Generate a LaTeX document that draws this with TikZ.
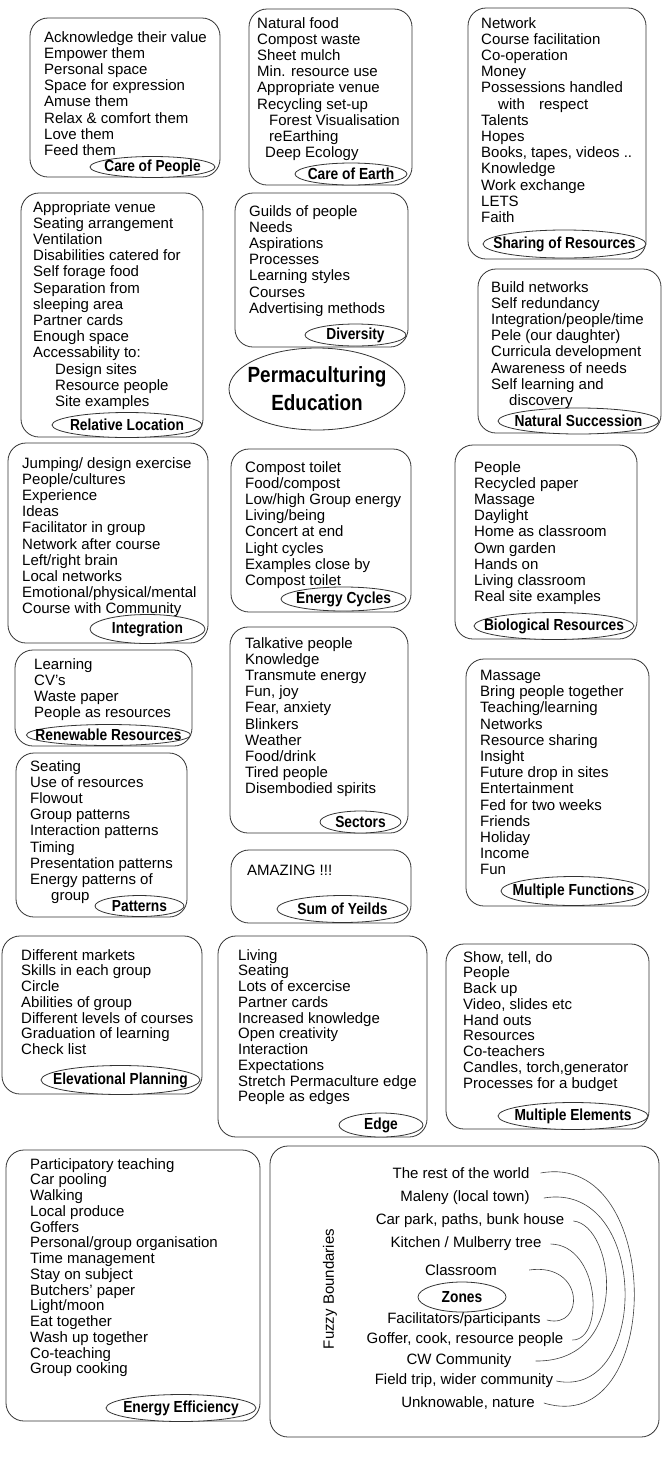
\documentclass[tikz,border=0pt]{standalone}
\usepackage{fontspec}
\setmainfont{Liberation Sans}
\newfontfamily\lblfont{Liberation Sans}[FakeStretch=0.86]
\usetikzlibrary{shapes.geometric}
\tikzset{
  box/.style={draw=black!80, line width=0.8pt, rounded corners=18pt},
  txt/.style={anchor=north west, inner sep=0pt, align=left, font=\fontsize{15}{16.2}\selectfont},
  txtb/.style={anchor=north west, inner sep=0pt, align=left, font=\fontsize{15}{15.75}\selectfont},
  lbl/.style={ellipse, draw=black!80, line width=0.8pt, fill=white, inner xsep=-15pt, inner ysep=-3pt,
              font=\lblfont\bfseries\fontsize{16}{18}\selectfont},
  zl/.style={inner sep=3pt, font=\fontsize{15}{16}\selectfont},
  zarc/.style={draw=black!75, line width=0.6pt},
}
\begin{document}
\begin{tikzpicture}[x=1pt,y=-1pt]
\fill[white] (0,0) rectangle (672,1460);
\useasboundingbox (0,0) rectangle (672,1460);

% ---------- boxes ----------
\draw[box] (30,18) rectangle (220,177);
\draw[box] (249,9) rectangle (412,185);
\draw[box] (468,8) rectangle (646,259);
\draw[box] (21,193) rectangle (203,437);
\draw[box] (235,193) rectangle (408,347);
\draw[box] (478,269) rectangle (661,433);
\draw[box] (8,443) rectangle (208,643);
\draw[box] (231,449) rectangle (411,612);
\draw[box] (455,445) rectangle (637,639);
\draw[box] (15,650) rectangle (192,746);
\draw[box] (16,753) rectangle (187,917);
\draw[box] (230,627) rectangle (408,833);
\draw[box] (231,850) rectangle (411,923);
\draw[box] (466,659) rectangle (649,906);
\draw[box] (2,936) rectangle (202,1094);
\draw[box] (218,936) rectangle (427,1137);
\draw[box] (446,944) rectangle (649,1129);
\draw[box] (6,1150) rectangle (260,1421);
\draw[box] (270,1146) rectangle (659,1437);

% ---------- texts ----------
\node[txt] (tA) at (44,31) {Acknowledge their value\\Empower them\\Personal space\\Space for expression\\Amuse them\\Relax \& comfort them\\Love them\\Feed them};
\node[txt] (tB) at (257,17) {Natural food\\Compost waste\\Sheet mulch\\Min. resource use\\Appropriate venue\\Recycling set-up\\\hspace*{12pt}Forest Visualisation\\\hspace*{12pt}reEarthing\\\hspace*{8pt}Deep Ecology};
\node[txt] (tC) at (481,17) {Network\\Course facilitation\\Co-operation\\Money\\Possessions handled\\\hspace*{17pt}with\hspace{10pt} respect\\Talents\\Hopes\\Books, tapes, videos ..\\Knowledge\\Work exchange\\LETS\\Faith};
\node[txt] (tD) at (33,201) {Appropriate venue\\Seating arrangement\\Ventilation\\Disabilities catered for\\Self forage food\\Separation from\\sleeping area\\Partner cards\\Enough space\\Accessability to:\\\hspace*{22pt}Design sites\\\hspace*{22pt}Resource people\\\hspace*{22pt}Site examples};
\node[txt] (tE) at (249,205) {Guilds of people\\Needs\\Aspirations\\Processes\\Learning styles\\Courses\\Advertising methods};
\node[txt] (tF) at (491,281) {Build networks\\Self redundancy\\Integration/people/time\\Pele (our daughter)\\Curricula development\\Awareness of needs\\Self learning and\\\hspace*{18pt}discovery};
\node[txt] (tG) at (22,457) {Jumping/ design exercise\\People/cultures\\Experience\\Ideas\\Facilitator in group\\Network after course\\Left/right brain\\Local networks\\Emotional/physical/mental\\Course with Community};
\node[txt] (tH) at (245,461) {Compost toilet\\Food/compost\\Low/high Group energy\\Living/being\\Concert at end\\Light cycles\\Examples close by\\Compost toilet};
\node[txt] (tI) at (474,461) {People\\Recycled paper\\Massage\\Daylight\\Home as classroom\\Own garden\\Hands on\\Living classroom\\Real site examples};
\node[txt] (tJ) at (34,658) {Learning\\CV's\\Waste paper\\People as resources};
\node[txt] (tK) at (30,760) {Seating\\Use of resources\\Flowout\\Group patterns\\Interaction patterns\\Timing\\Presentation patterns\\Energy patterns of\\\hspace*{21pt}group};
\node[txt] (tL) at (245,637) {Talkative people\\Knowledge\\Transmute energy\\Fun, joy\\Fear, anxiety\\Blinkers\\Weather\\Food/drink\\Tired people\\Disembodied spirits};
\node[txt] (tM) at (247,865) {AMAZING !!!};
\node[txt] (tN) at (480,670) {Massage\\Bring people together\\Teaching/learning\\Networks\\Resource sharing\\Insight\\Future drop in sites\\Entertainment\\Fed for two weeks\\Friends\\Holiday\\Income\\Fun};
\node[txtb] (tO) at (21,949) {Different markets\\Skills in each group\\Circle\\Abilities of group\\Different levels of courses\\Graduation of learning\\Check list};
\node[txtb] (tP) at (238,949) {Living\\Seating\\Lots of excercise\\Partner cards\\Increased knowledge\\Open creativity\\Interaction\\Expectations\\Stretch Permaculture edge\\People as edges};
\node[txtb] (tQ) at (463,951) {Show, tell, do\\People\\Back up\\Video, slides etc\\Hand outs\\Resources\\Co-teachers\\Candles, torch,generator\\Processes for a budget};
\node[txtb] (tR) at (30,1158) {Participatory teaching\\Car pooling\\Walking\\Local produce\\Goffers\\Personal/group organisation\\Time management\\Stay on subject\\Butchers' paper\\Light/moon\\Eat together\\Wash up together\\Co-teaching\\Group cooking};

% ---------- labels ----------
\node[lbl, minimum width=125pt, minimum height=21pt] (lA) at (152.5,167) {Care of People};
\node[lbl, minimum width=112pt, minimum height=22pt] (lB) at (351,174) {Care of Earth};
\node[lbl, minimum width=163pt, minimum height=28pt] (lC) at (564.5,244) {Sharing of Resources};
\node[lbl, minimum width=150pt, minimum height=25pt] (lD) at (127,425) {Relative Location};
\node[lbl, minimum width=101pt, minimum height=22pt] (lE) at (355.5,335) {Diversity};
\node[lbl, minimum width=161pt, minimum height=26pt] (lF) at (578.5,421) {Natural Succession};
\node[lbl, minimum width=115pt, minimum height=29pt] (lG) at (147.5,629) {Integration};
\node[lbl, minimum width=125pt, minimum height=24pt] (lH) at (343.5,599) {Energy Cycles};
\node[lbl, minimum width=160pt, minimum height=27pt] (lI) at (554,626) {Biological Resources};
\node[lbl, minimum width=161pt, minimum height=21pt] (lJ) at (108.5,735) {Renewable Resources};
\node[lbl, minimum width=89pt, minimum height=21pt] (lK) at (139.5,906) {Patterns};
\node[lbl, minimum width=81pt, minimum height=22pt] (lL) at (360.5,822) {Sectors};
\node[lbl, minimum width=131pt, minimum height=27pt] (lM) at (342.5,909) {Sum of Yeilds};
\node[lbl, minimum width=145pt, minimum height=29pt] (lN) at (573.5,891) {Multiple Functions};
\node[lbl, minimum width=159pt, minimum height=29pt] (lO) at (120.5,1080) {Elevational Planning};
\node[lbl, minimum width=84pt, minimum height=24pt] (lP) at (381,1125) {Edge};
\node[lbl, minimum width=150pt, minimum height=27pt] (lQ) at (573,1116) {Multiple Elements};
\node[lbl, minimum width=150pt, minimum height=27pt] (lR) at (181,1408) {Energy Efficiency};

% ---------- centre ----------
\node[ellipse, draw=black!80, line width=0.8pt, fill=white, minimum width=176pt, minimum height=82pt,
      inner xsep=-22pt, inner ysep=0pt, align=center,
      font=\lblfont\bfseries\fontsize{22}{28}\selectfont] (pe) at (317,389) {Permaculturing\\Education};

% ---------- zones ----------
\node[zl, rotate=90] (fb) at (330,1289) {Fuzzy Boundaries};
\node[zl] (z1) at (461,1173) {The rest of the world};
\node[zl] (z2) at (465,1198) {Maleny (local town)};
\node[zl] (z3) at (470,1221) {Car park, paths, bunk house};
\node[zl] (z4) at (466,1244) {Kitchen / Mulberry tree};
\node[zl] (z5) at (461,1270) {Classroom};
\node[lbl, minimum width=88pt, minimum height=30pt] (zc) at (462,1297) {Zones};
\node[zl] (z6) at (464,1320) {Facilitators/participants};
\node[zl] (z7) at (465,1340) {Goffer, cook, resource people};
\node[zl] (z8) at (459,1361) {CW Community};
\node[zl] (z9) at (464,1381) {Field trip, wider community};
\node[zl] (z10) at (468,1403) {Unknowable, nature};

\draw[zarc] ([xshift=8pt]z1.east) .. controls (665,1150) and (665,1440) .. ([xshift=6pt]z10.east);
\draw[zarc] ([xshift=11pt]z2.east) .. controls (650,1180) and (650,1400) .. (z9.east);
\draw[zarc] ([xshift=6pt]z3.east) .. controls (615,1225) and (632,1362) .. ([xshift=21pt]z8.east);
\draw[zarc] ([xshift=6pt]z4.east) .. controls (600,1245) and (605,1340) .. ([xshift=6pt]z7.east);
\draw[zarc] ([xshift=29pt]z5.east) .. controls (585,1262) and (585,1330) .. ([xshift=3pt]z6.east);
\end{tikzpicture}
\end{document}
